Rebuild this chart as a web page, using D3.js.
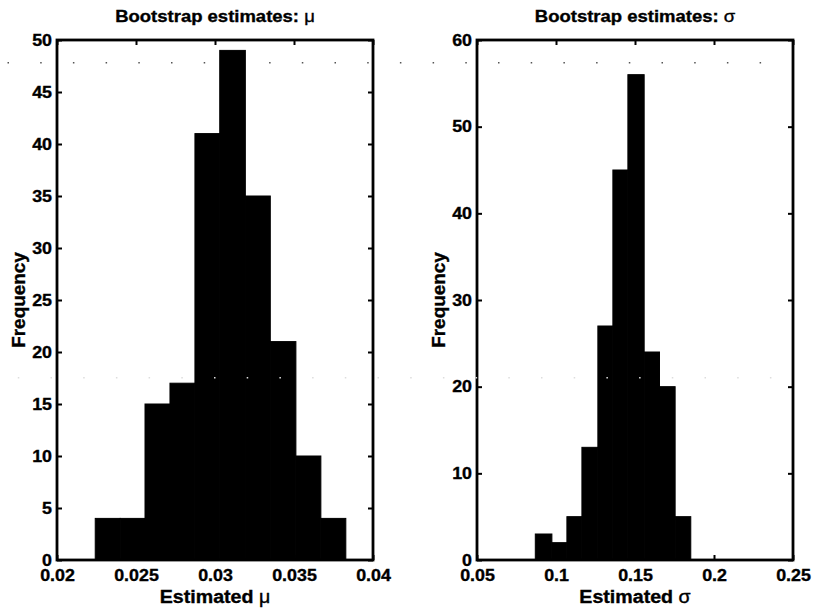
<!DOCTYPE html>
<html>
<head>
<meta charset="utf-8">
<script src="https://cdn.jsdelivr.net/npm/d3@7/dist/d3.min.js"></script>
<style>
body{margin:0;background:#fff;}
svg text{font-family:"Liberation Sans",Arial,Helvetica,sans-serif;font-weight:bold;fill:#000;}
</style>
</head>
<body>
<div id="chart"></div>
<script>

// bootstrap estimates of mu
var mu_edges = [0.02242,0.02400,0.02557,0.02715,0.02873,0.03030,0.03192,0.03350,0.03512,0.03670,0.03828];
var mu_counts = [4,4,15,17,41,49,35,21,10,4];
var mu_xticks = [0.02,0.025,0.03,0.035,0.04];
var mu_yticks = [0,5,10,15,20,25,30,35,40,45,50];

// bootstrap estimates of sigma
var sigma_edges = [0.0869,0.0974,0.1069,0.1164,0.1265,0.1360,0.1455,0.1558,0.1655,0.1754,0.1853];
var sigma_counts = [3,2,5,13,27,45,56,24,20,5];
var sigma_xticks = [0.05,0.1,0.15,0.2,0.25];
var sigma_yticks = [0,10,20,30,40,50,60];

var panels = [
	{'title':'Bootstrap estimates: ','sym':'\u03bc','edges':mu_edges,'counts':mu_counts,'xticks':mu_xticks,'yticks':mu_yticks,'left':57},
	{'title':'Bootstrap estimates: ','sym':'\u03c3','edges':sigma_edges,'counts':sigma_counts,'xticks':sigma_xticks,'yticks':sigma_yticks,'left':477}
];

var width = 813, height = 610;
var top_m = 40, pw = 316, ph = 520;

function fmt(d){ return String(d); }

// the scanned lettering is a bit wider and heavier than Arial bold
function stretch(sel, k){
	sel.each(function(){
		var w = this.getComputedTextLength();
		d3.select(this)
		.attr('textLength', w*k)
		.attr('lengthAdjust', 'spacingAndGlyphs')
		.attr('stroke', '#000')
		.attr('stroke-width', 0.35);
	});
}

function scan_dots(svg){
	// faint dotted row left over from the scanned page
	svg.append('g')
	.selectAll('rect')
	.data(d3.range(7.5, 800, 32.7))
	.enter()
	.append('rect')
	.attr('x', function(d){ return d; })
	.attr('y', 62)
	.attr('width', 1.5)
	.attr('height', 1.5)
	.attr('fill', '#555');
}

function hist_draw(svg, p){
	var g = svg.append('g')
	.attr('transform', 'translate(' + p.left + ',' + top_m + ')');

	var x = d3.scaleLinear()
	.domain(d3.extent(p.xticks))
	.range([0, pw]);
	var y = d3.scaleLinear()
	.domain(d3.extent(p.yticks))
	.range([ph, 0]);

	g.append('g')
	.selectAll('rect')
	.data(p.counts)
	.enter()
	.append('rect')
	.attr('x', function(d,i){ return x(p.edges[i]); })
	.attr('y', function(d){ return y(d); })
	.attr('width', function(d,i){ return x(p.edges[i+1]) - x(p.edges[i]); })
	.attr('height', function(d){ return ph - y(d); })
	.attr('fill', '#000')
	.attr('stroke', '#000')
	.attr('stroke-width', 1);

	var xb = g.append('g')
	.attr('transform', 'translate(0,' + ph + ')')
	.call(d3.axisBottom(x).tickValues(p.xticks).tickSizeInner(-5).tickSizeOuter(0).tickPadding(9).tickFormat(fmt));
	var xt = g.append('g')
	.call(d3.axisTop(x).tickValues(p.xticks).tickSizeInner(-5).tickSizeOuter(0).tickFormat(''));
	var yl = g.append('g')
	.call(d3.axisLeft(y).tickValues(p.yticks).tickSizeInner(-5).tickSizeOuter(0).tickPadding(5).tickFormat(fmt));
	var yr = g.append('g')
	.attr('transform', 'translate(' + pw + ',0)')
	.call(d3.axisRight(y).tickValues(p.yticks).tickSizeInner(-5).tickSizeOuter(0).tickFormat(''));

	[xb, xt, yl, yr].forEach(function(a){
		a.select('.domain').remove();
		a.selectAll('line').attr('stroke', '#000').attr('stroke-width', 2);
		a.selectAll('text')
		.attr('font-size', 16.5)
		.style('font-family', '"Liberation Sans",Arial,sans-serif')
		.style('font-weight', 'bold');
	});
	stretch(xb.selectAll('text'), 1.08);
	stretch(yl.selectAll('text'), 1.08);

	g.append('rect')
	.attr('x', 0)
	.attr('y', 0)
	.attr('width', pw)
	.attr('height', ph)
	.attr('fill', 'none')
	.attr('stroke', '#000')
	.attr('stroke-width', 2.8);

	var title = g.append('text')
	.attr('x', pw/2)
	.attr('y', -18)
	.attr('text-anchor', 'middle')
	.attr('font-size', 16.5)
	.text(p.title);
	title.append('tspan')
	.style('font-weight', 'normal')
	.text(p.sym);
	stretch(title, 1.12);

	var xlab = g.append('text')
	.attr('x', pw/2)
	.attr('y', ph + 43)
	.attr('text-anchor', 'middle')
	.attr('font-size', 17.5)
	.text('Estimated ');
	xlab.append('tspan')
	.style('font-weight', 'normal')
	.text(p.sym);
	stretch(xlab, 1.12);

	var ylab = g.append('text')
	.attr('transform', 'translate(-32,' + (ph/2) + ') rotate(-90)')
	.attr('text-anchor', 'middle')
	.attr('font-size', 17.5)
	.text('Frequency');
	stretch(ylab, 1.08);
}

function white_dots(svg){
	svg.append('g')
	.selectAll('rect')
	.data(d3.range(17.8, 800, 32.7))
	.enter()
	.append('rect')
	.attr('x', function(d){ return d; })
	.attr('y', 377)
	.attr('width', 1.5)
	.attr('height', 1.5)
	.attr('fill', '#ddd');
}

var svg = d3.select('#chart').append('svg')
.attr('width', width)
.attr('height', height);

scan_dots(svg);
for (var i=0; i<panels.length; i++) {
	hist_draw(svg, panels[i]);
}
white_dots(svg);

</script>
</body>
</html>
